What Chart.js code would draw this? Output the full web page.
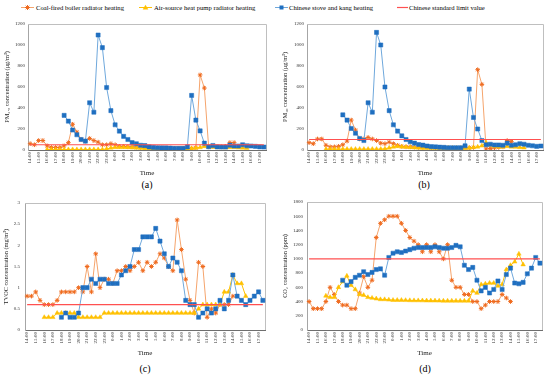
<!DOCTYPE html>
<html>
<head>
<meta charset="utf-8">
<script src="https://cdn.jsdelivr.net/npm/chart.js@4.4.1/dist/chart.umd.min.js"></script>
<style>
  html, body { margin: 0; padding: 0; background: #fff; }
  #wrap { position: relative; width: 550px; height: 379px; overflow: hidden;
          font-family: "Liberation Serif", "Times New Roman", serif; color: #000; }
  canvas { position: absolute; }
  .lg { position: absolute; top: 2px; font-size: 6.65px; line-height: 11px; white-space: nowrap; }
  .mk { position: absolute; top: 4px; }
  .cap { position: absolute; font-size: 10px; line-height: 12px; transform: translateX(-50%); }
</style>
</head>
<body>
<div id="wrap">
  <!-- legend -->
  <svg class="mk" style="left:21px" width="13" height="7">
    <line x1="0" y1="3.5" x2="13" y2="3.5" stroke="#F5A46C" stroke-width="1"/>
    <path d="M6.5 1v5M4 3.5h5M4.7 1.7l3.6 3.6M8.3 1.7l-3.6 3.6" stroke="#EF6A1E" stroke-width="1"/>
  </svg>
  <span class="lg" style="left:36px">Coal-fired boiler radiator heating</span>
  <svg class="mk" style="left:139px" width="13" height="7">
    <line x1="0" y1="3.5" x2="13" y2="3.5" stroke="#FFC000" stroke-width="1"/>
    <path d="M6.5 0.8L9.3 5.6H3.7Z" fill="#FFC000"/>
  </svg>
  <span class="lg" style="left:154px">Air-source heat pump radiator heating</span>
  <svg class="mk" style="left:275px" width="13" height="7">
    <line x1="0" y1="3.5" x2="13" y2="3.5" stroke="#6FA8DC" stroke-width="1"/>
    <rect x="4.5" y="1.5" width="4" height="4" fill="#1F6FC0"/>
  </svg>
  <span class="lg" style="left:289px">Chinese stove and kang heating</span>
  <svg class="mk" style="left:397px" width="11" height="7">
    <line x1="0" y1="3.5" x2="11" y2="3.5" stroke="#FF5050" stroke-width="1.2"/>
  </svg>
  <span class="lg" style="left:409px">Chinese standard limit value</span>

  <canvas id="chartA" width="275" height="160" style="left:0;top:18px"></canvas>
  <canvas id="chartB" width="275" height="160" style="left:275px;top:18px"></canvas>
  <canvas id="chartC" width="275" height="165" style="left:0;top:195px"></canvas>
  <canvas id="chartD" width="275" height="165" style="left:275px;top:195px"></canvas>

  <div class="cap" style="left:147px;top:179px">(a)</div>
  <div class="cap" style="left:424px;top:179px">(b)</div>
  <div class="cap" style="left:145px;top:363px">(c)</div>
  <div class="cap" style="left:425px;top:363px">(d)</div>
</div>

<script>
// half-hour sampling, 14:00 on day 1 to 17:30 on day 2
const times = ['14:00','14:30','15:00','15:30','16:00','16:30','17:00','17:30','18:00','18:30',
  '19:00','19:30','20:00','20:30','21:00','21:30','22:00','22:30','23:00','23:30',
  '0:00','0:30','1:00','1:30','2:00','2:30','3:00','3:30','4:00','4:30',
  '5:00','5:30','6:00','6:30','7:00','7:30','8:00','8:30','9:00','9:30',
  '10:00','10:30','11:00','11:30','12:00','12:30','13:00','13:30','14:00','14:30',
  '15:00','15:30','16:00','16:30','17:00','17:30'];

// first sample index of each heating type
const coalStart = 0;   // 14:00
const heatStart = 4;   // 16:00
const stoveStart = 8;  // 18:00

// PM2.5 (μg/m³)
const pm25Coal = [60,50,90,90,40,25,25,25,40,70, 245,170,100,85,110,90,75,50,50,60,
  50,35,35,30,30,28,25,25,22,20, 20,20,18,18,15,15,15,15,15,20, 715,590,30,35,30,30,35,70,70];
const pm25Heat = [5,5,5,5,5,5,5,5,5,5,5,5,5,5, 10,20,25,25,25,25,22,20,18,
  12,12,12,12,12,12,12,12,12,12,12, 15,20,25,35,30,28,25,25,22,25,25,22,20,18];
const pm25Stove = [330,275,190,145,100,85,450,360,1095,975, 595,375,240,180,130,100,70,60,45,42,
  30,25,22,20,20,18,15,15,15,30, 520,285,182,65,31,43,30,28,28,46, 38,38,50,40,38,35,30,28];

// PM10 (μg/m³)
const pm10Coal = [70,60,105,105,45,30,30,35,50,85, 285,190,105,105,120,105,90,65,60,75,
  60,45,35,30,30,28,25,25,25,22, 22,20,20,20,18,18,18,20,20,25, 765,625,10,15,20,25,30,90,80];
const pm10Heat = [8,8,8,8,8,8,8,8,8,8,8,8,8,8, 12,20,30,35,30,28,25,22,20,
  18,18,18,18,18,18,18,18,18,18,18, 20,25,30,40,70,45,35,30,30,35,30,28,25,22];
const pm10Stove = [335,285,205,160,110,90,450,360,1120,1000, 600,375,240,180,135,100,78,65,52,46,
  38,32,30,27,25,22,22,22,22,40, 580,310,200,90,50,55,48,48,45,65, 45,50,60,55,45,40,35,38];

// TVOC (mg/m³)
const tvocCoal = [0.8,0.8,0.9,0.7,0.6,0.6,0.6,0.7,0.9,0.9, 0.9,0.9,1.0,0.9,1.5,0.9,1.8,1.0,1.2,1.2,
  1.1,1.4,1.4,1.5,1.4,1.5,1.6,1.4,1.6,1.5, 1.6,1.8,1.7,1.5,1.4,2.6,1.9,1.2,0.7,0.4, 1.6,1.5,0.3,0.5,0.4,0.6,0.6,0.6,0.8];
const tvocHeat = [0.3,0.3,0.3,0.4,0.4,0.4,0.4,0.4,0.3,0.3,0.3,0.3,0.3,0.3,
  0.4,0.4,0.4,0.4,0.4,0.4,0.4,0.4,0.4,0.4,0.4,0.4,0.4,0.4,0.4,0.4,0.4,0.4,0.4,0.4,0.4,0.4,
  0.5,0.6,0.6,0.6,0.6,0.6,0.9,0.9,1.3,1.1,1.1,0.8];
const tvocStove = [0.3,0.4,0.3,0.3,0.4,1.0,1.0,1.2,1.1,1.2, 1.2,1.1,1.1,1.1,1.3,1.4,1.5,1.9,1.9,2.2,
  2.2,2.2,2.4,2.1,1.8,1.5,1.7,1.6,1.4,0.7, 0.6,0.6,0.3,0.4,0.5,0.4,0.5,0.7,0.5,0.7, 1.3,0.8,0.7,0.6,0.7,0.8,0.9,0.7];

// CO2 (ppm)
const co2Coal = [400,300,300,300,400,600,500,400,350,350, 300,300,520,750,600,700,1300,1500,1550,1600,
  1600,1600,1500,1400,1300,1250,1200,1100,1200,1100, 1200,1100,1000,1200,700,600,600,500,500,400,
  400,300,350,400,400,400,500,450,400];
const co2Heat = [480,460,460,600,680,760,630,570,500,490,460,450,440,430,430,425,420,420,420,
  418,416,415,415,414,413,412,412,411,410,410,410,410,410,410,410,
  550,520,640,650,660,660,620,640,850,910,960,1070,920];
const co2Stove = [700,630,680,740,770,820,780,810,850,860, 770,1020,1080,1100,1090,1110,1130,1150,1160,1160,
  1160,1160,1170,1160,1150,1150,1160,1190,1170,910, 850,880,700,550,600,520,570,690,570,780,
  870,660,650,670,790,870,1020,940];

// Chinese standard (GB/T 18883-2022) limits
const limitPm25 = 50;
const limitPm10 = 100;
const limitTvoc = 0.6;
const limitCo2 = 1000;

const SERIF = "'Liberation Serif', 'Times New Roman', serif";
Chart.defaults.font.family = SERIF;
Chart.defaults.color = '#222';

// place a partial series on the full time axis
const onAxis = (start, vals) => times.map((t, i) => (i >= start && i < start + vals.length) ? vals[i - start] : null);

// limit line: one point at each end of the axis, joined across the gap
const limitLine = v => times.map((t, i) => (i === 0 || i === times.length - 1) ? v : null);

// light frame on top / right of the plot area
const frame = {
  id: 'frame',
  beforeDatasetsDraw(chart) {
    const { ctx, chartArea: a } = chart;
    ctx.save();
    ctx.strokeStyle = '#BFBFBF';
    ctx.lineWidth = 1;
    ctx.beginPath();
    ctx.moveTo(a.left, Math.floor(a.top) + 0.5);
    ctx.lineTo(Math.floor(a.right) + 0.5, Math.floor(a.top) + 0.5);
    ctx.lineTo(Math.floor(a.right) + 0.5, a.bottom);
    ctx.stroke();
    ctx.restore();
  }
};

function makeChart(id, p) {
  const datasets = [
    { label: 'Coal-fired boiler radiator heating', data: onAxis(coalStart, p.coal),
      borderColor: '#F5A46C', borderWidth: 1, pointStyle: 'star', pointRadius: 2.3,
      pointBorderColor: '#EF6A1E', pointBackgroundColor: '#EF6A1E', pointBorderWidth: 1, order: 4 },
    { label: 'Air-source heat pump radiator heating', data: onAxis(heatStart, p.heat),
      borderColor: '#FFC000', borderWidth: 1, pointStyle: 'triangle', pointRadius: 2.6,
      pointBorderColor: '#FFC000', pointBackgroundColor: '#FFC000', pointBorderWidth: 0.5, order: 3 },
    { label: 'Chinese stove and kang heating', data: onAxis(stoveStart, p.stove),
      borderColor: '#6FA8DC', borderWidth: 1, pointStyle: 'rect', pointRadius: 2.9,
      pointBorderColor: '#1F6FC0', pointBackgroundColor: '#1F6FC0', pointBorderWidth: 0.5, order: 2 },
    { label: 'Chinese standard limit value', data: limitLine(p.limit), spanGaps: true,
      borderColor: '#FF5050', borderWidth: 1.2, pointRadius: 0, order: 1 }
  ];

  return new Chart(document.getElementById(id), {
    type: 'line',
    data: { labels: times, datasets },
    options: {
      responsive: false,
      animation: false,
      devicePixelRatio: 1,
      layout: { padding: p.pad },
      plugins: { legend: { display: false }, tooltip: { enabled: false } },
      scales: {
        x: {
          offset: true,
          grid: { display: false, drawTicks: false },
          border: { display: true, color: '#6E6E6E', width: 1 },
          ticks: {
            autoSkip: false, minRotation: 90, maxRotation: 90, padding: 2,
            font: { size: 5 }, color: '#333',
            callback: (v, i) => (i % 2 === 0 ? times[i] : '')
          },
          title: { display: true, text: 'Time', font: { size: 7 }, color: '#222', padding: { top: 0, bottom: 0 } },
          afterFit: s => { s.height = p.xh; }
        },
        y: {
          min: 0, max: p.yMax,
          grid: { display: false, drawTicks: false },
          border: { display: true, color: '#A6A6A6', width: 1 },
          ticks: { stepSize: p.yStep, padding: p.tickPad, font: { size: 5 }, color: '#333',
                   callback: v => String(v) },
          title: { display: true, text: p.yTitle, font: { size: 6.3 }, color: '#222',
                   padding: { top: p.titlePad, bottom: 0 } },
          afterFit: s => { s.width = p.yw; }
        }
      }
    },
    plugins: [frame]
  });
}

makeChart('chartA', { coal: pm25Coal, heat: pm25Heat, stove: pm25Stove, limit: limitPm25,
  yTitle: 'PM₂.₅ concentration (μg/m³)', yMax: 1200, yStep: 200,
  yw: 28, titlePad: 3.5, tickPad: 3, xh: 27, pad: { top: 3, right: 9, bottom: 1, left: 0 } });

makeChart('chartB', { coal: pm10Coal, heat: pm10Heat, stove: pm10Stove, limit: limitPm10,
  yTitle: 'PM₁₀ concentration (μg/m³)', yMax: 1200, yStep: 200,
  yw: 32, titlePad: 6.2, tickPad: 3, xh: 27, pad: { top: 3, right: 7, bottom: 1, left: 0 } });

makeChart('chartC', { coal: tvocCoal, heat: tvocHeat, stove: tvocStove, limit: limitTvoc,
  yTitle: 'TVOC concentration (mg/m³)', yMax: 3, yStep: 0.5,
  yw: 25, titlePad: 2.9, tickPad: 5, xh: 27.5, pad: { top: 6, right: 10, bottom: 2.5, left: 0 } });

makeChart('chartD', { coal: co2Coal, heat: co2Heat, stove: co2Stove, limit: limitCo2,
  yTitle: 'CO₂ concentration (ppm)', yMax: 1800, yStep: 200,
  yw: 32, titlePad: 6.2, tickPad: 4, xh: 27.5, pad: { top: 6, right: 8, bottom: 2.5, left: 0 } });
</script>
</body>
</html>
